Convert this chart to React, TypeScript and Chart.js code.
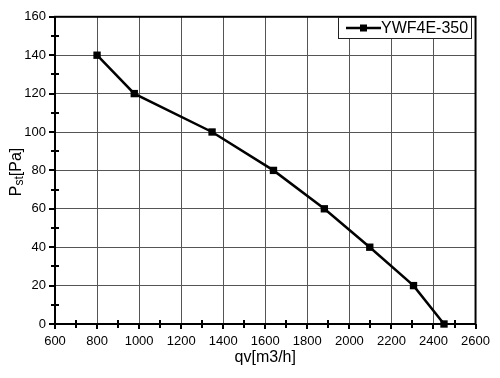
import React, { useEffect, useRef } from "react";
import { Chart, registerables } from "chart.js";

Chart.register(...registerables);

const flowValues = [800, 977, 1347, 1639, 1881, 2097, 2305, 2450];
const pressureValues = [140, 120, 100, 80, 60, 40, 20, 0];
const seriesName = "YWF4E-350";
const xTitle = "qv[m3/h]";
const yTitleMain = "P";
const yTitleSub = "st";
const yTitleRest = "[Pa]";

const FONT = "'Liberation Sans', Arial, sans-serif";

const decorPlugin = {
  id: "decor",
  afterDatasetsDraw(chart: any) {
    const { ctx, chartArea, scales } = chart;
    const xs = scales.x;
    const ys = scales.y;
    ctx.save();
    // border
    ctx.strokeStyle = "#000";
    ctx.lineWidth = 2;
    ctx.strokeRect(chartArea.left, chartArea.top, chartArea.right - chartArea.left, chartArea.bottom - chartArea.top);
    // ticks
    ctx.lineWidth = 2;
    ctx.beginPath();
    for (let v = 600; v <= 2600; v += 100) {
      const x = Math.round(xs.getPixelForValue(v));
      const major = v % 200 === 0;
      if (major) {
        ctx.moveTo(x, chartArea.bottom);
        ctx.lineTo(x, chartArea.bottom + 5);
      } else {
        ctx.moveTo(x, chartArea.bottom - 4);
        ctx.lineTo(x, chartArea.bottom + 4);
      }
    }
    for (let v = 0; v <= 160; v += 10) {
      const y = Math.round(ys.getPixelForValue(v));
      const major = v % 20 === 0;
      if (major) {
        ctx.moveTo(chartArea.left - 6, y);
        ctx.lineTo(chartArea.left, y);
      } else {
        ctx.moveTo(chartArea.left - 4, y);
        ctx.lineTo(chartArea.left + 4, y);
      }
    }
    ctx.stroke();

    // legend
    const lx = 338, ly = 17, lw = 133, lh = 21;
    ctx.fillStyle = "#fff";
    ctx.fillRect(lx, ly, lw, lh);
    ctx.lineWidth = 1;
    ctx.strokeStyle = "#222";
    ctx.strokeRect(lx + 0.5, ly + 0.5, lw, lh);
    const cy = ly + lh / 2 + 0.5;
    ctx.lineWidth = 2.5;
    ctx.strokeStyle = "#000";
    ctx.beginPath();
    ctx.moveTo(346, cy);
    ctx.lineTo(381, cy);
    ctx.stroke();
    ctx.fillStyle = "#000";
    ctx.fillRect(360, cy - 3.5, 7, 7);
    ctx.font = `16px ${FONT}`;
    ctx.textBaseline = "middle";
    ctx.textAlign = "left";
    ctx.fillText(seriesName, 381, cy + 1);

    // x title
    ctx.font = `16px ${FONT}`;
    ctx.textAlign = "center";
    ctx.textBaseline = "middle";
    ctx.fillText(xTitle, (chartArea.left + chartArea.right) / 2, 358);

    // y title with subscript
    ctx.translate(17, 172);
    ctx.rotate(-Math.PI / 2);
    ctx.textAlign = "left";
    ctx.textBaseline = "middle";
    const big = `16px ${FONT}`;
    const small = `12px ${FONT}`;
    ctx.font = big;
    const w1 = ctx.measureText(yTitleMain).width;
    const w3 = ctx.measureText(yTitleRest).width;
    ctx.font = small;
    const w2 = ctx.measureText(yTitleSub).width;
    let x0 = -(w1 + w2 + w3) / 2;
    ctx.font = big;
    ctx.fillText(yTitleMain, x0, 0);
    x0 += w1;
    ctx.font = small;
    ctx.fillText(yTitleSub, x0, 3);
    x0 += w2;
    ctx.font = big;
    ctx.fillText(yTitleRest, x0, 0);
    ctx.restore();
  },
};

export default function App() {
  const ref = useRef<HTMLCanvasElement | null>(null);
  useEffect(() => {
    document.body.style.margin = "0";
    const canvas = ref.current;
    if (!canvas) return;
    const chart = new Chart(canvas, {
      type: "scatter",
      data: {
        datasets: [
          {
            label: seriesName,
            data: flowValues.map((x, i) => ({ x, y: pressureValues[i] })),
            showLine: true,
            borderColor: "#000",
            backgroundColor: "#000",
            borderWidth: 2.5,
            pointStyle: "rect",
            pointRadius: 5.2,
            pointHoverRadius: 5.2,
            pointBorderWidth: 0,
            clip: false,
          } as any,
        ],
      },
      options: {
        animation: false,
        responsive: false,
        maintainAspectRatio: false,
        events: [],
        layout: { padding: { top: 10, right: 20, left: 0, bottom: 0 } },
        plugins: { legend: { display: false }, tooltip: { enabled: false }, title: { display: false } },
        scales: {
          x: {
            type: "linear",
            min: 600,
            max: 2600,
            border: { display: false },
            grid: { color: "#555", lineWidth: 1, drawTicks: false },
            ticks: {
              stepSize: 200,
              padding: 10,
              color: "#000",
              font: { family: FONT, size: 13 },
              maxRotation: 0,
              callback: (v: any) => String(v),
            },
            afterFit: (s: any) => {
              s.height = 54;
            },
          },
          y: {
            type: "linear",
            min: 0,
            max: 160,
            border: { display: false },
            grid: { color: "#555", lineWidth: 1, drawTicks: false },
            ticks: {
              stepSize: 20,
              padding: 9,
              color: "#000",
              font: { family: FONT, size: 13 },
              callback: (v: any) => String(v),
            },
            afterFit: (s: any) => {
              s.width = 55;
            },
          },
        },
      },
      plugins: [decorPlugin],
    });
    return () => chart.destroy();
  }, []);
  return (
    <div style={{ position: "absolute", left: 0, top: 0, width: 500, height: 378, background: "#fff" }}>
      <canvas ref={ref} width={500} height={378} style={{ width: 500, height: 378, display: "block" }} />
    </div>
  );
}
